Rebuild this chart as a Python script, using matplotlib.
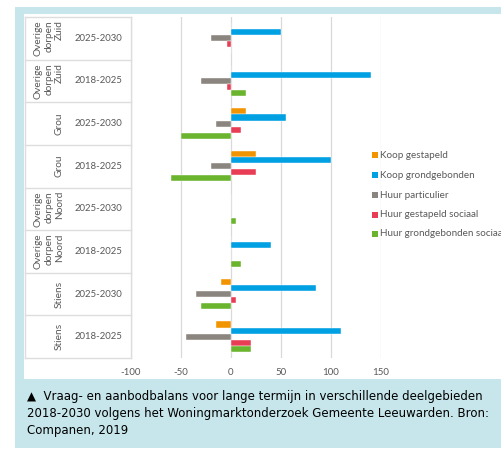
import matplotlib
matplotlib.use("Agg")
import matplotlib.pyplot as plt
from matplotlib.patches import Rectangle
import numpy as np

# Categories, top to bottom
regions = ["Overige\ndorpen\nZuid", "Overige\ndorpen\nZuid", "Grou", "Grou",
           "Overige\ndorpen\nNoord", "Overige\ndorpen\nNoord", "Stiens", "Stiens"]
periods = ["2025-2030", "2018-2025", "2025-2030", "2018-2025",
           "2025-2030", "2018-2025", "2025-2030", "2018-2025"]

series_names = ["Koop gestapeld", "Koop grondgebonden", "Huur particulier",
                "Huur gestapeld sociaal", "Huur grondgebonden sociaal"]
koop_gestapeld = [0, 0, 15, 25, 0, 0, -10, -15]
koop_grondgebonden = [50, 140, 55, 100, 0, 40, 85, 110]
huur_particulier = [-20, -30, -15, -20, 0, 0, -35, -45]
huur_gestapeld_sociaal = [-4, -4, 10, 25, 0, 0, 5, 20]
huur_grondgebonden_sociaal = [0, 15, -50, -60, 5, 10, -30, 20]

x_ticks = [-100, -50, 0, 50, 100, 150]

colors = ["#F29400", "#00A0E2", "#8B8580", "#E83D55", "#6BB42E"]
text_grey = "#595959"
panel_blue = "#C6E6EB"

W, H = 502, 449
fig = plt.figure(figsize=(W / 100, H / 100), dpi=100)
fig.patch.set_facecolor("white")

def fx(px):
    return px / W

def fy(py):
    return 1 - py / H

# Background panel and white chart card
fig.patches.append(Rectangle((fx(15), fy(448)), fx(502) - fx(15), fy(7) - fy(448),
                             transform=fig.transFigure, facecolor=panel_blue,
                             edgecolor="none", zorder=-3))
fig.patches.append(Rectangle((fx(24), fy(379)), fx(502) - fx(24), fy(14) - fy(379),
                             transform=fig.transFigure, facecolor="white",
                             edgecolor="none", zorder=-2))

# Plot area
left, right, top, bottom = 131, 381, 17, 358
ax = fig.add_axes([fx(left), fy(bottom), fx(right) - fx(left), fy(top) - fy(bottom)])
ax.set_facecolor("none")
ax.set_zorder(2)

n = len(periods)
row_pos = np.arange(n)
bar_h = 0.143
all_series = [koop_gestapeld, koop_grondgebonden, huur_particulier,
              huur_gestapeld_sociaal, huur_grondgebonden_sociaal]
for k, (vals, col, name) in enumerate(zip(all_series, colors, series_names)):
    offs = (k - 2) * bar_h
    ax.barh(row_pos + offs, vals, height=bar_h, color=col, label=name,
            edgecolor="white", linewidth=0.3, zorder=3)

ax.set_xlim(-100, 150)
ax.set_ylim(n - 0.5, -0.5)
ax.set_xticks(x_ticks)
ax.set_xticklabels([str(v) for v in x_ticks])
ax.set_yticks([])
ax.grid(axis="x", color="#D9D9D9", linewidth=0.9, zorder=0)
for s in ax.spines.values():
    s.set_visible(False)
ax.tick_params(axis="x", length=0, pad=7, labelsize=7, labelcolor=text_grey)
for lab in ax.get_xticklabels():
    lab.set_fontfamily("Lato")

# Category table on the left
tab = fig.add_axes([fx(24), fy(bottom), fx(left) - fx(24), fy(top) - fy(bottom)])
tab.set_zorder(2)
tab.set_xlim(24, left)
tab.set_ylim(n - 0.5, -0.5)
tab.axis("off")
line_col = "#DDDDDD"
for b in np.arange(n + 1) - 0.5:
    tab.plot([25, left], [b, b], color=line_col, linewidth=1.0, clip_on=False)
tab.plot([25, 25], [-0.5, n - 0.5], color=line_col, linewidth=1.0, clip_on=False)
tab.plot([left, left], [-0.5, n - 0.5], color=line_col, linewidth=1.0, clip_on=False)
for i, (r, p) in enumerate(zip(regions, periods)):
    tab.text(64, i, r, rotation=90, ha="right", va="center", fontsize=7.3,
             color=text_grey, family="Lato", linespacing=1.25)
    tab.text(98.5, i, p, ha="center", va="center", fontsize=6.9,
             color=text_grey, family="Lato")

# Legend (the last entry runs past the right edge of the card)
leg_y = [155, 175, 195, 215, 234]
for name, col, yy in zip(series_names, colors, leg_y):
    fig.patches.append(Rectangle((fx(372), fy(yy + 3)), fx(6), fy(0) - fy(6),
                                 transform=fig.transFigure, facecolor=col,
                                 edgecolor="none", zorder=5))
    fig.text(fx(380), fy(yy), name, ha="left", va="center", fontsize=7.1,
             color=text_grey, family="Lato", zorder=5)

# Caption
caption = ("\u25B2  Vraag- en aanbodbalans voor lange termijn in verschillende deelgebieden\n"
           "2018-2030 volgens het Woningmarktonderzoek Gemeente Leeuwarden. Bron:\n"
           "Companen, 2019")
fig.text(fx(27), fy(390), caption, ha="left", va="top", fontsize=8.5,
         color="black", family="DejaVu Sans", linespacing=1.4)

fig.savefig("out.png", dpi=100)
